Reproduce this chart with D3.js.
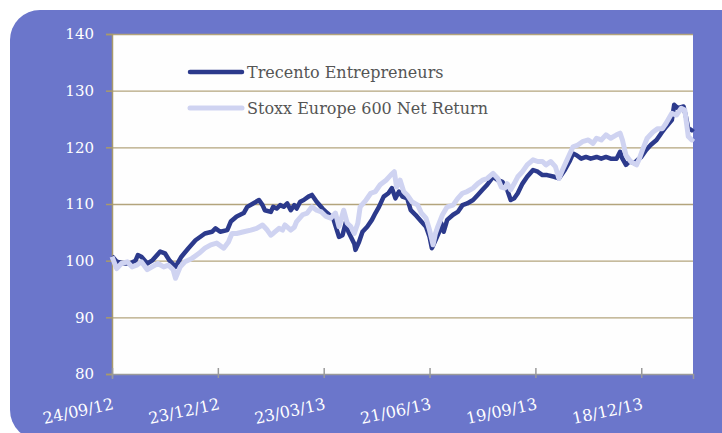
<!DOCTYPE html>
<html>
<head>
<meta charset="utf-8">
<script src="https://cdn.jsdelivr.net/npm/d3@7"></script>
<style>
  body { margin: 0; background: #fff; }
  text { font-family: "DejaVu Serif", serif; }
</style>
</head>
<body>
<svg width="722" height="433"></svg>
<script>
// values, base 100 on 24/09/12
const trecento = [
  ["2012-09-24",100.8],["2012-09-28",99.8],["2012-10-05",99.5],["2012-10-09",99.5],["2012-10-14",100.0],
  ["2012-10-16",101.0],["2012-10-19",100.7],["2012-10-24",99.5],["2012-10-28",100.0],["2012-11-04",101.6],
  ["2012-11-08",101.3],["2012-11-12",100.0],["2012-11-17",98.9],["2012-11-22",100.7],["2012-11-28",102.2],
  ["2012-12-04",103.6],["2012-12-12",104.8],["2012-12-18",105.1],["2012-12-21",105.7],["2012-12-25",105.1],
  ["2012-12-31",105.4],["2013-01-03",106.9],["2013-01-08",107.8],["2013-01-14",108.4],["2013-01-17",109.5],
  ["2013-01-22",110.1],["2013-01-27",110.7],["2013-01-30",109.8],["2013-02-01",108.9],["2013-02-06",108.6],
  ["2013-02-08",109.5],["2013-02-11",109.2],["2013-02-14",109.8],["2013-02-17",109.5],["2013-02-20",110.1],
  ["2013-02-23",108.9],["2013-02-26",109.8],["2013-02-28",109.2],["2013-03-03",110.4],["2013-03-06",110.7],
  ["2013-03-10",111.3],["2013-03-13",111.6],["2013-03-17",110.4],["2013-03-22",109.2],["2013-03-26",108.4],
  ["2013-03-31",107.5],["2013-04-05",104.2],["2013-04-08",104.5],["2013-04-11",106.9],["2013-04-13",105.1],
  ["2013-04-18",103.0],["2013-04-19",101.9],["2013-04-22",103.3],["2013-04-25",105.1],["2013-04-29",106.0],
  ["2013-05-03",107.2],["2013-05-06",108.4],["2013-05-09",109.5],["2013-05-13",111.3],["2013-05-17",111.9],
  ["2013-05-20",112.8],["2013-05-23",111.0],["2013-05-26",112.2],["2013-05-29",111.3],["2013-06-02",111.0],
  ["2013-06-05",108.9],["2013-06-09",108.1],["2013-06-14",106.9],["2013-06-18",106.0],["2013-06-21",104.2],
  ["2013-06-23",102.2],["2013-06-26",103.6],["2013-06-29",105.0],["2013-07-01",106.6],["2013-07-03",105.1],
  ["2013-07-06",107.2],["2013-07-11",108.1],["2013-07-15",108.6],["2013-07-19",109.8],["2013-07-23",110.1],
  ["2013-07-28",110.7],["2013-08-01",111.6],["2013-08-05",112.5],["2013-08-09",113.4],["2013-08-14",114.8],
  ["2013-08-18",114.2],["2013-08-22",113.9],["2013-08-26",112.5],["2013-08-29",110.7],["2013-09-01",111.0],
  ["2013-09-04",111.9],["2013-09-08",113.6],["2013-09-12",114.8],["2013-09-17",116.0],["2013-09-21",115.7],
  ["2013-09-25",115.1],["2013-09-29",115.1],["2013-10-05",114.8],["2013-10-09",114.5],["2013-10-14",116.0],
  ["2013-10-18",117.5],["2013-10-21",118.9],["2013-10-24",118.6],["2013-10-28",118.0],["2013-11-01",118.3],
  ["2013-11-05",118.0],["2013-11-10",118.3],["2013-11-14",118.0],["2013-11-18",118.3],["2013-11-22",118.0],
  ["2013-11-27",118.0],["2013-11-30",119.2],["2013-12-02",118.0],["2013-12-05",116.9],["2013-12-08",117.5],
  ["2013-12-12",117.2],["2013-12-15",117.8],["2013-12-18",118.3],["2013-12-22",119.5],["2013-12-26",120.4],
  ["2013-12-31",121.3],["2014-01-04",122.5],["2014-01-08",123.6],["2014-01-13",124.8],["2014-01-15",127.5],
  ["2014-01-18",126.9],["2014-01-23",127.2],["2014-01-25",125.4],["2014-01-27",123.3],["2014-01-30",123.0],
  ["2014-01-31",123.3]
]

const stoxx = [
  ["2012-09-24",100.7],["2012-09-28",98.6],["2012-10-02",99.5],["2012-10-07",99.8],["2012-10-11",98.9],
  ["2012-10-15",99.2],["2012-10-19",99.8],["2012-10-24",98.4],["2012-10-28",98.9],["2012-11-02",99.5],
  ["2012-11-07",98.9],["2012-11-11",99.2],["2012-11-15",98.4],["2012-11-17",96.9],["2012-11-21",98.9],
  ["2012-11-25",99.8],["2012-12-01",100.4],["2012-12-07",101.3],["2012-12-12",102.2],["2012-12-17",102.8],
  ["2012-12-22",103.1],["2012-12-28",102.2],["2013-01-01",103.3],["2013-01-04",104.8],["2013-01-08",104.8],
  ["2013-01-14",105.1],["2013-01-20",105.4],["2013-01-25",105.7],["2013-01-30",106.3],["2013-02-03",105.4],
  ["2013-02-06",104.5],["2013-02-08",104.8],["2013-02-13",105.7],["2013-02-16",105.4],["2013-02-18",106.3],
  ["2013-02-23",105.4],["2013-02-26",105.9],["2013-02-28",106.9],["2013-03-05",108.1],["2013-03-09",108.4],
  ["2013-03-13",109.5],["2013-03-17",108.9],["2013-03-21",108.6],["2013-03-25",107.8],["2013-03-29",107.5],
  ["2013-04-02",108.4],["2013-04-05",106.0],["2013-04-09",108.9],["2013-04-12",106.6],["2013-04-15",106.0],
  ["2013-04-18",104.8],["2013-04-21",106.6],["2013-04-23",109.5],["2013-04-28",110.7],["2013-05-02",111.9],
  ["2013-05-06",112.2],["2013-05-10",113.4],["2013-05-15",114.2],["2013-05-19",115.1],["2013-05-22",115.7],
  ["2013-05-24",113.0],["2013-05-27",114.2],["2013-05-30",112.2],["2013-06-02",111.6],["2013-06-06",110.4],
  ["2013-06-11",109.8],["2013-06-14",108.4],["2013-06-18",107.5],["2013-06-21",105.4],["2013-06-24",102.8],
  ["2013-06-26",104.8],["2013-06-28",106.0],["2013-07-02",108.1],["2013-07-06",109.5],["2013-07-11",109.8],
  ["2013-07-15",111.0],["2013-07-19",111.9],["2013-07-23",112.2],["2013-07-28",112.8],["2013-08-01",113.6],
  ["2013-08-05",114.2],["2013-08-09",114.5],["2013-08-14",115.4],["2013-08-18",114.5],["2013-08-21",113.0],
  ["2013-08-24",112.8],["2013-08-26",113.6],["2013-08-29",112.5],["2013-09-01",113.6],["2013-09-04",114.8],
  ["2013-09-08",115.7],["2013-09-12",116.9],["2013-09-17",117.8],["2013-09-21",117.5],["2013-09-25",117.5],
  ["2013-09-28",116.9],["2013-10-02",117.5],["2013-10-06",116.6],["2013-10-09",114.5],["2013-10-12",116.0],
  ["2013-10-17",118.3],["2013-10-21",120.1],["2013-10-25",120.4],["2013-10-29",121.0],["2013-11-03",121.3],
  ["2013-11-07",120.7],["2013-11-10",121.6],["2013-11-14",121.3],["2013-11-18",122.2],["2013-11-22",121.6],
  ["2013-11-27",122.2],["2013-11-30",122.5],["2013-12-02",121.3],["2013-12-05",118.6],["2013-12-09",117.5],
  ["2013-12-14",116.9],["2013-12-16",117.8],["2013-12-19",119.5],["2013-12-23",121.6],["2013-12-28",122.7],
  ["2014-01-01",123.3],["2014-01-05",123.3],["2014-01-08",124.2],["2014-01-13",126.0],["2014-01-17",125.7],
  ["2014-01-21",126.9],["2014-01-24",126.6],["2014-01-27",121.9],["2014-01-30",121.3],["2014-01-31",121.6]
]

const seriesNames = ["Trecento Entrepreneurs", "Stoxx Europe 600 Net Return"]
const yTicks = [80, 90, 100, 110, 120, 130, 140]
const xTicks = ["2012-09-24", "2012-12-23", "2013-03-23", "2013-06-21", "2013-09-19", "2013-12-18"]

const parseDate = d3.timeParse("%Y-%m-%d")
const fmtDate = d3.timeFormat("%d/%m/%y")

const svg = d3.select("svg")

// panel
svg.append("rect")
    .attr("x", 10)
    .attr("y", 10)
    .attr("width", 760)
    .attr("height", 430)
    .attr("rx", 30)
    .attr("fill", "#6b76cb")

const plotLeft = 112, plotRight = 693, plotTop = 34, plotBottom = 374

const x = d3.scaleTime()
    .domain([parseDate("2012-09-24"), parseDate("2014-01-31")])
    .range([plotLeft, plotRight])

const y = d3.scaleLinear()
    .domain([80, 140])
    .range([plotBottom, plotTop])

svg.append("rect")
    .attr("x", plotLeft)
    .attr("y", plotTop)
    .attr("width", plotRight - plotLeft)
    .attr("height", plotBottom - plotTop)
    .attr("fill", "#fefefe")

// gridlines
svg.append("g")
    .attr("transform", "translate(" + plotLeft + ",0)")
    .call(d3.axisLeft(y).tickValues(yTicks.slice(1)).tickSize(-(plotRight - plotLeft)).tickFormat(""))
    .call(g => g.select(".domain").remove())
    .call(g => g.selectAll(".tick line").attr("stroke", "#b3a47c").attr("stroke-width", 1.3))

// y axis
const yAxis = svg.append("g")
    .attr("transform", "translate(" + plotLeft + ",0)")
    .call(d3.axisLeft(y).tickValues(yTicks).tickSize(6).tickPadding(12))
yAxis.select(".domain").attr("stroke", "#a89a6c").attr("stroke-width", 1.5)
yAxis.selectAll(".tick line").attr("stroke", "#a89a6c").attr("stroke-width", 1.5)
yAxis.selectAll(".tick text")
    .attr("fill", "#fff")
    .style("font-size", "15px")

// x axis
const xAxis = svg.append("g")
    .attr("transform", "translate(0," + plotBottom + ")")
    .call(d3.axisBottom(x).tickValues(xTicks.map(parseDate)).tickSize(5).tickFormat(fmtDate))
xAxis.select(".domain").attr("stroke", "#9a9a9a").attr("stroke-width", 1.5)
xAxis.selectAll(".tick line")
    .attr("y1", -6)
    .attr("y2", 4)
    .attr("stroke", "#9a9a9a")
    .attr("stroke-width", 1.5)
xAxis.selectAll(".tick text")
    .attr("fill", "#fff")
    .style("font-size", "16px")
    .attr("text-anchor", "end")
    .attr("y", 0)
    .attr("dy", 0)
    .attr("transform", "translate(2,35) rotate(-12)")

// lines
const line = d3.line()
    .x(d => x(parseDate(d[0])))
    .y(d => y(d[1]))

svg.append("path")
    .datum(trecento)
    .attr("fill", "none")
    .attr("stroke", "#2c3a8c")
    .attr("stroke-width", 4.5)
    .attr("stroke-linejoin", "round")
    .attr("d", line)

svg.append("path")
    .datum(stoxx)
    .attr("fill", "none")
    .attr("stroke", "#cfd3f1")
    .attr("stroke-width", 5)
    .attr("stroke-linejoin", "round")
    .attr("d", line)

// legend
const legend = svg.append("g")
    .selectAll("g")
    .data(seriesNames)
    .enter()
    .append("g")
    .attr("transform", (d, i) => "translate(190," + (72 + i * 36) + ")")

legend.append("line")
    .attr("x1", 0)
    .attr("x2", 52)
    .attr("stroke", (d, i) => i == 0 ? "#2c3a8c" : "#cfd3f1")
    .attr("stroke-width", (d, i) => i == 0 ? 4.5 : 5)
    .attr("stroke-linecap", "round")

legend.append("text")
    .attr("x", 57)
    .attr("y", 6)
    .attr("fill", "#555")
    .style("font-size", "16px")
    .text(d => d)
</script>
</body>
</html>
